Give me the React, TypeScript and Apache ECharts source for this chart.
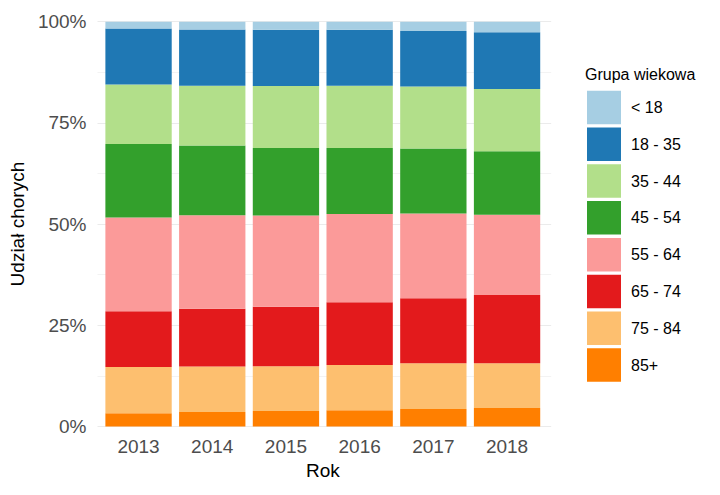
import React, { useEffect, useRef } from "react";
import * as echarts from "echarts";

// Years on the x axis
const years = ["2013", "2014", "2015", "2016", "2017", "2018"];

// Age groups, top of the legend first
const ageGroups = ["< 18", "18 - 35", "35 - 44", "45 - 54", "55 - 64", "65 - 74", "75 - 84", "85+"];

// Share of patients (%) per age group and year
const under18 = [1.7, 1.9, 2.0, 2.0, 2.3, 2.6];
const age18to35 = [13.8, 13.9, 13.9, 13.8, 13.7, 14.0];
const age35to44 = [14.7, 14.8, 15.3, 15.4, 15.3, 15.4];
const age45to54 = [18.2, 17.2, 16.7, 16.3, 16.1, 15.7];
const age55to64 = [23.1, 23.1, 22.5, 21.8, 20.9, 19.8];
const age65to74 = [13.8, 14.3, 14.7, 15.5, 16.1, 16.9];
const age75to84 = [11.4, 11.2, 11.1, 11.2, 11.3, 11.0];
const age85plus = [3.3, 3.6, 3.8, 4.0, 4.3, 4.6];

// Y axis ticks
const yTicks = [0, 25, 50, 75, 100];

// ColorBrewer "Paired" palette, one per age group
const groupColors = ["#A6CEE3", "#1F78B4", "#B2DF8A", "#33A02C", "#FB9A99", "#E31A1C", "#FDBF6F", "#FF7F00"];

const groupValues = [under18, age18to35, age35to44, age45to54, age55to64, age65to74, age75to84, age85plus];

const FONT = "'Liberation Sans', Arial, Helvetica, sans-serif";

export default function App() {
  const ref = useRef<HTMLDivElement | null>(null);

  useEffect(() => {
    document.body.style.margin = "0";
    const chart = echarts.init(ref.current!, null, { renderer: "svg" });

    // Stack from the oldest group at the bottom to the youngest at the top
    const order = ageGroups.map((_, i) => i).reverse();
    const series = order.map((i) => ({
      name: ageGroups[i],
      type: "bar",
      stack: "total",
      xAxisIndex: 1,
      yAxisIndex: 1,
      barWidth: "90%",
      itemStyle: { color: groupColors[i] },
      emphasis: { disabled: true },
      data: groupValues[i],
    }));

    const top = 21.7;
    const bottom = 68.5;

    chart.setOption({
      animation: false,
      textStyle: { fontFamily: FONT },
      title: {
        text: "Grupa wiekowa",
        left: 585,
        top: 66,
        padding: 0,
        textStyle: { fontFamily: FONT, fontSize: 16, fontWeight: "normal", color: "#000000" },
      },
      legend: {
        orient: "vertical",
        left: 587,
        top: 90.7,
        padding: 0,
        itemWidth: 34,
        itemHeight: 33.5,
        itemGap: 3.3,
        icon: "rect",
        selectedMode: false,
        data: ageGroups,
        textStyle: { fontFamily: FONT, fontSize: 16, color: "#000000", padding: [0, 0, 0, 5] },
      },
      grid: [
        // Panel with gridlines (includes the discrete-axis expansion)
        { left: 94.3, right: 720 - 551.2, top, bottom },
        // Bars
        { left: 101.7, right: 720 - 543.9, top, bottom },
      ],
      xAxis: [
        { type: "value", gridIndex: 0, min: 0, max: 1, show: false },
        {
          type: "category",
          gridIndex: 1,
          data: years,
          axisLine: { show: false },
          axisTick: { show: false },
          splitLine: { show: false },
          axisLabel: { color: "#4d4d4d", fontSize: 19, margin: 10, fontFamily: FONT },
          name: "Rok",
          nameLocation: "middle",
          nameGap: 34,
          nameTextStyle: { color: "#000000", fontSize: 19, fontFamily: FONT },
        },
      ],
      yAxis: [
        {
          type: "value",
          gridIndex: 0,
          min: 0,
          max: 100,
          interval: 25,
          axisLine: { show: false },
          axisTick: { show: false },
          axisLabel: {
            color: "#4d4d4d",
            fontSize: 19,
            margin: 11,
            fontFamily: FONT,
            formatter: (v: number) => (yTicks.includes(v) ? `${v}%` : ""),
          },
          splitLine: { show: true, lineStyle: { color: "#ebebeb", width: 1 } },
          minorTick: { show: false, splitNumber: 2 },
          minorSplitLine: { show: true, lineStyle: { color: "#f3f3f3", width: 1 } },
          name: "Udział chorych",
          nameLocation: "middle",
          nameGap: 65,
          nameTextStyle: { color: "#000000", fontSize: 19, fontFamily: FONT },
        },
        {
          type: "value",
          gridIndex: 1,
          min: 0,
          max: 100,
          show: false,
          splitLine: { show: false },
        },
      ],
      series,
    });

    return () => chart.dispose();
  }, []);

  return (
    <div
      ref={ref}
      style={{ position: "fixed", left: 0, top: 0, width: 720, height: 495, background: "#ffffff" }}
    />
  );
}
